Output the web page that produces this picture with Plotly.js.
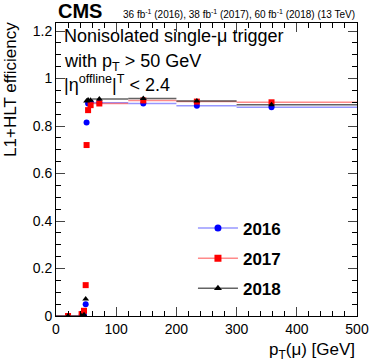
<!DOCTYPE html>
<html>
<head>
<meta charset="utf-8">
<script src="https://cdn.plot.ly/plotly-3.0.1.min.js"></script>
<style>
  body { margin: 0; background: #fff; }
  #plot { width: 374px; height: 363px; }
</style>
</head>
<body>
<div id="plot"></div>
<script>
'use strict'
// bin positions (GeV) and bin edges, shared by the three years
const ptMean = [20, 42.5, 46.5, 49.3, 50.8, 53.3, 57.5, 72, 145, 234, 358];
const binLow = [0, 40, 45, 48, 50, 52, 55, 60, 120, 200, 300];
const binHigh = [40, 45, 48, 50, 52, 55, 60, 120, 200, 300, 500];

// efficiencies
const eff2016 = [0.0, 0.0, 0.003, 0.05, 0.815, 0.895, 0.9, 0.898, 0.895, 0.886, 0.879];
const eff2017 = [0.0, 0.008, 0.022, 0.13, 0.72, 0.867, 0.888, 0.895, 0.908, 0.903, 0.9];
const eff2018 = [0.0, 0.0, 0.005, 0.072, 0.905, 0.91, 0.909, 0.914, 0.916, 0.906, 0.89];

const years = ['2016', '2017', '2018'];
const colors = ['#0000ff', '#ff0000', '#000000'];
const barColors = ['rgba(80,80,255,0.6)', 'rgba(255,60,60,0.6)', 'rgba(60,60,60,0.8)'];
const symbols = ['circle', 'square', 'triangle-up'];
const effs = [eff2016, eff2017, eff2018];

const FONT = 'Liberation Sans, Arial, Helvetica, sans-serif';

let traces = [];
for (let i = 0; i < 3; i++) {
  let plus = ptMean.map((m, k) => binHigh[k] - m);
  let minus = ptMean.map((m, k) => m - binLow[k]);
  traces.push({
    x: ptMean, y: effs[i], type: 'scatter', mode: 'markers',
    marker: {color: colors[i], symbol: symbols[i], size: 6},
    error_x: {type: 'data', symmetric: false, array: plus, arrayminus: minus,
              color: barColors[i], thickness: 1.5, width: 0},
    showlegend: false, cliponaxis: true
  });
}
// legend-only entries (line + marker like ROOT's "lep")
for (let i = 0; i < 3; i++) {
  traces.push({
    x: [null], y: [null], type: 'scatter', mode: 'lines+markers',
    name: years[i], legendgroup: years[i],
    marker: {color: colors[i], symbol: symbols[i], size: 7},
    line: {color: barColors[i], width: 1.5}
  });
}

let layout = {
  width: 374, height: 363,
  margin: {l: 56, r: 17, t: 23, b: 47},
  paper_bgcolor: '#fff', plot_bgcolor: '#fff',
  font: {family: FONT, color: '#000', size: 14},
  showlegend: true,
  legend: {x: 0.455, y: 0.36, xanchor: 'left', yanchor: 'top',
           bgcolor: 'rgba(0,0,0,0)', tracegroupgap: 5, itemwidth: 40,
           font: {family: FONT, size: 17, weight: 'bold'}},
  xaxis: {
    range: [0, 500], dtick: 100, ticks: 'inside', ticklen: 9, tickwidth: 1,
    showline: true, linecolor: '#000', linewidth: 1, mirror: 'allticks',
    showgrid: false, zeroline: false,
    minor: {dtick: 20, ticks: 'inside', ticklen: 5, tickcolor: '#000', showgrid: false},
    tickfont: {size: 14}
  },
  yaxis: {
    range: [0, 1.234], dtick: 0.2, ticks: 'inside', ticklen: 9, tickwidth: 1,
    showline: true, linecolor: '#000', linewidth: 1, mirror: 'allticks',
    showgrid: false, zeroline: false,
    minor: {dtick: 0.05, ticks: 'inside', ticklen: 5, tickcolor: '#000', showgrid: false},
    tickfont: {size: 14}
  },
  annotations: [
    {text: '<b>CMS</b>', xref: 'paper', yref: 'paper', x: 0, y: 1, xanchor: 'left', yanchor: 'bottom',
     yshift: -1, showarrow: false, font: {size: 20}},
    {text: '36 fb<sup>-1</sup> (2016), 38 fb<sup>-1</sup> (2017), 60 fb<sup>-1</sup> (2018) (13 TeV)',
     xref: 'paper', yref: 'paper', x: 1, y: 1, xanchor: 'right', yanchor: 'bottom', yshift: 1,
     showarrow: false, font: {size: 10}},
    {text: 'Nonisolated single-μ trigger', xref: 'paper', yref: 'paper', x: 0.02, y: 0.995,
     xanchor: 'left', yanchor: 'top', showarrow: false, font: {size: 18}},
    {text: 'with p<sub>T</sub> > 50 GeV', xref: 'paper', yref: 'paper', x: 0.02, y: 0.91,
     xanchor: 'left', yanchor: 'top', showarrow: false, font: {size: 18}},
    {text: '|η<sup>offline</sup>|<sup>T</sup> < 2.4', xref: 'paper', yref: 'paper', x: 0.02, y: 0.84,
     xanchor: 'left', yanchor: 'top', showarrow: false, font: {size: 18}},
    {text: 'L1+HLT efficiency', xref: 'paper', yref: 'paper', x: -0.19, y: 1.01,
     xanchor: 'left', yanchor: 'top', textangle: -90, showarrow: false, font: {size: 17}},
    {text: 'p<sub>T</sub>(μ) [GeV]', xref: 'paper', yref: 'paper', x: 1, y: -0.075,
     xanchor: 'right', yanchor: 'top', showarrow: false, font: {size: 17}}
  ]
};

Plotly.newPlot(document.getElementById('plot'), traces, layout, {staticPlot: true});
</script>
</body>
</html>
